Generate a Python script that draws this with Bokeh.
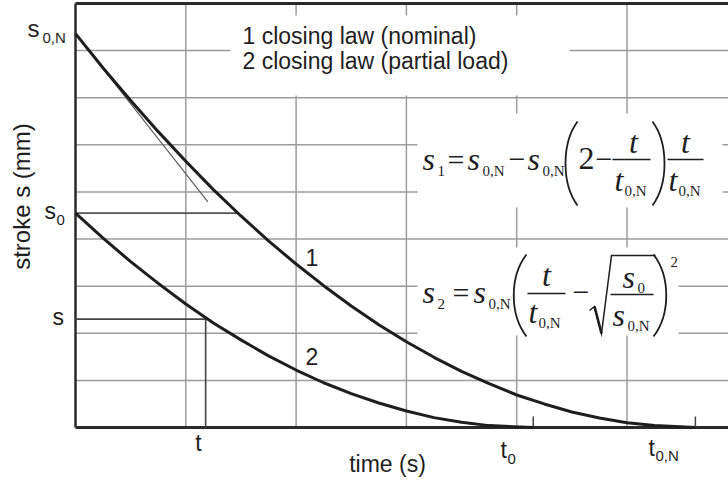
import numpy as np
from bokeh.plotting import figure
from bokeh.models import Range1d, Label
from bokeh.embed import file_html
from bokeh.resources import INLINE

# ---- data (time in grid units, stroke in grid units) ----
# closing law 1 (nominal)
time_1 = [0.0, 0.25, 0.5, 0.75, 1.0, 1.25, 1.5, 1.75, 2.0, 2.25, 2.5, 2.75,
          3.0, 3.25, 3.5, 3.75, 4.0, 4.25, 4.5, 4.75, 5.0, 5.25, 5.62]
stroke_1 = [8.36, 7.63, 6.94, 6.28, 5.65, 5.05, 4.49, 3.96, 3.47, 3.01, 2.58, 2.18,
            1.82, 1.49, 1.19, 0.93, 0.69, 0.50, 0.33, 0.20, 0.10, 0.04, 0.0]
# closing law 2 (partial load)
time_2 = [0.0, 0.25, 0.5, 0.75, 1.0, 1.25, 1.5, 1.75, 2.0, 2.25, 2.5, 2.75,
          3.0, 3.25, 3.5, 3.75, 4.15]
stroke_2 = [4.55, 4.02, 3.52, 3.06, 2.62, 2.22, 1.86, 1.52, 1.22, 0.95, 0.72, 0.52,
            0.35, 0.21, 0.11, 0.04, 0.0]

# characteristic values
s_0N = 8.36
s_0 = 4.55
t_0 = 4.15
t_0N = 5.62
t_s0_on_1 = 1.47      # where curve 1 passes s_0
t_mark = 1.18         # the time t
s_mark = 2.30         # stroke s of curve 2 at time t
tangent_t = [0.0, 1.20]
tangent_s = [8.36, 4.79]

t_max = 5.92          # right end of the diagram
s_max = 9.0           # top of the diagram
grid_t = [1, 2, 3, 4, 5]
grid_s = [1, 2, 3, 4, 5, 6, 7, 8]

legend_lines = ["1 closing law (nominal)", "2 closing law (partial load)"]

# ---- canvas geometry: the plotting frame covers the whole canvas ----
W, H = 728, 482
FX0, FY1 = 75, 427            # pixel position of the diagram origin
XU = 110.3                    # pixels per time grid unit
YU = (FY1 - 3) / s_max        # pixels per stroke grid unit


def dx(px):
    return (px - FX0) / XU


def dy(py):
    return (FY1 - py) / YU


INK = "#1e1e1e"
SANS = "Liberation Sans"
SERIF = "Liberation Serif"
K = 0.40   # baseline correction of rendered text, in em
FS = 23    # sans text size

p = figure(width=W, height=H, output_backend="svg", toolbar_location=None,
           x_axis_location=None, y_axis_location=None,
           x_range=Range1d(dx(0), dx(W)), y_range=Range1d(dy(H), dy(0)),
           min_border=0)
p.outline_line_color = None
p.background_fill_color = "white"
p.border_fill_color = "white"
p.grid.visible = False

# grid lines
p.segment(x0=grid_t, y0=[0] * len(grid_t), x1=grid_t, y1=[s_max] * len(grid_t),
          line_color="#9c9c9c", line_width=1.5)
p.segment(x0=[0] * len(grid_s), y0=grid_s, x1=[t_max] * len(grid_s), y1=grid_s,
          line_color="#9c9c9c", line_width=1.5)

# white panels behind the legend and the formulas
p.quad(left=[dx(230), dx(417), dx(417)], right=[dx(569), dx(722), dx(678)],
       top=[dy(15), dy(113), dy(247)], bottom=[dy(95), dy(207), dy(335)],
       fill_color="white", line_color=None)

# diagram border: left, bottom, top
p.segment(x0=[0], y0=[0], x1=[0], y1=[s_max], line_color="#2a2a2a", line_width=2.5)
p.segment(x0=[0, 0], y0=[0, s_max], x1=[t_max, t_max], y1=[0, s_max],
          line_color="#2a2a2a", line_width=3)

# inner tick marks at t_0 and t_0,N
p.segment(x0=[t_0, t_0N], y0=[0, 0], x1=[t_0, t_0N], y1=[11 / YU, 11 / YU],
          line_color="#444444", line_width=1.5)

# reference lines
p.line([0, t_s0_on_1], [s_0, s_0], line_color="#555555", line_width=1.6)
p.line([0, t_mark], [s_mark, s_mark], line_color="#444444", line_width=1.6)
p.line([t_mark, t_mark], [0, s_mark], line_color="#444444", line_width=1.6)
p.line(tangent_t, tangent_s, line_color="#555555", line_width=1.1)

# curves
p.line(time_1, stroke_1, line_color=INK, line_width=3, line_join="round")
p.line(time_2, stroke_2, line_color=INK, line_width=3, line_join="round")


def txt(x, y, s, size, font=SANS, style="normal", align="left", baseline="alphabetic", angle=0.0):
    yy = y - K * size if baseline == "alphabetic" else y
    p.add_layout(Label(x=dx(x), y=dy(yy), text=s, text_font=font, text_font_style=style,
                       text_font_size=f"{size}px", text_align=align, text_baseline=baseline,
                       text_color=INK, angle=angle))


# legend and curve labels
txt(242, 45, legend_lines[0], FS)
txt(242, 70, legend_lines[1], FS)
txt(305, 266, "1", FS)
txt(305, 365, "2", FS)

# axis titles
txt(21, 196, "stroke s (mm)", 24, align="center", baseline="middle", angle=np.pi / 2)
txt(387, 473, "time (s)", FS, align="center")

# symbolic tick labels
txt(27, 38, "s", 24)
txt(42, 43, "0,N", 15)
txt(44, 220, "s", 23)
txt(56, 225, "0", 15)
txt(52, 326, "s", 23)
txt(198, 452, "t", FS, align="center")
txt(500, 459, "t", FS)
txt(507, 464, "0", 15)
txt(648, 457, "t", FS)
txt(655, 461, "0,N", 15)

# ---- formula 1: s1 = s0,N - s0,N (2 - t/t0,N) t/t0,N ----
MS, OS, SS = 32, 30, 15
b1, sb1 = 171, 176
txt(422, b1, "s", MS, SERIF, "italic")
txt(437, sb1, "1", SS, SERIF)
txt(447, b1, "=", OS, SERIF)
txt(467, b1, "s", MS, SERIF, "italic")
txt(482, sb1, "0,N", SS, SERIF)
txt(508, b1, "\u2212", OS, SERIF)
txt(527, b1, "s", MS, SERIF, "italic")
txt(542, sb1, "0,N", SS, SERIF)
txt(578, b1, "2", MS, SERIF)
txt(595, b1, "\u2212", OS, SERIF)
txt(633, 154, "t", MS, SERIF, "italic", align="center")
txt(614, 192, "t", MS, SERIF, "italic")
txt(624, 196, "0,N", SS, SERIF)
txt(685, 154, "t", MS, SERIF, "italic", align="center")
txt(668, 192, "t", MS, SERIF, "italic")
txt(678, 196, "0,N", SS, SERIF)
p.segment(x0=[dx(612), dx(667)], y0=[dy(159), dy(159)], x1=[dx(650), dx(703)], y1=[dy(159), dy(159)],
          line_color=INK, line_width=1.5)
p.bezier(x0=[dx(577), dx(652)], y0=[dy(121), dy(121)], x1=[dx(577), dx(652)], y1=[dy(205), dy(205)],
         cx0=[dx(561), dx(668)], cy0=[dy(143), dy(143)], cx1=[dx(561), dx(668)], cy1=[dy(183), dy(183)],
         line_color=INK, line_width=1.8)

# ---- formula 2: s2 = s0,N (t/t0,N - sqrt(s0/s0,N))^2 ----
b2, sb2 = 304, 309
txt(422, b2, "s", MS, SERIF, "italic")
txt(437, sb2, "2", SS, SERIF)
txt(452, b2, "=", OS, SERIF)
txt(473, b2, "s", MS, SERIF, "italic")
txt(488, sb2, "0,N", SS, SERIF)
txt(546, 287, "t", MS, SERIF, "italic", align="center")
txt(528, 324, "t", MS, SERIF, "italic")
txt(538, 328, "0,N", SS, SERIF)
txt(572, b2, "\u2212", OS, SERIF)
txt(622, 289, "s", MS, SERIF, "italic")
txt(637, 293, "0", SS, SERIF)
txt(612, 327, "s", MS, SERIF, "italic")
txt(627, 331, "0,N", SS, SERIF)
txt(670, 267, "2", SS, SERIF)
p.segment(x0=[dx(527), dx(610)], y0=[dy(293), dy(294)], x1=[dx(565), dx(653)], y1=[dy(293), dy(294)],
          line_color=INK, line_width=1.5)
p.line([dx(589), dx(594), dx(601), dx(611), dx(655)], [dy(310), dy(306), dy(333), dy(255), dy(255)],
       line_color=INK, line_width=1.5, line_join="miter")
p.line([dx(594), dx(601)], [dy(306), dy(333)], line_color=INK, line_width=2.6)
p.bezier(x0=[dx(526), dx(653)], y0=[dy(254), dy(254)], x1=[dx(526), dx(653)], y1=[dy(336), dy(336)],
         cx0=[dx(509), dx(670)], cy0=[dy(276), dy(276)], cx1=[dx(509), dx(670)], cy1=[dy(314), dy(314)],
         line_color=INK, line_width=1.8)

open("out.html", "w").write(file_html(p, INLINE))
